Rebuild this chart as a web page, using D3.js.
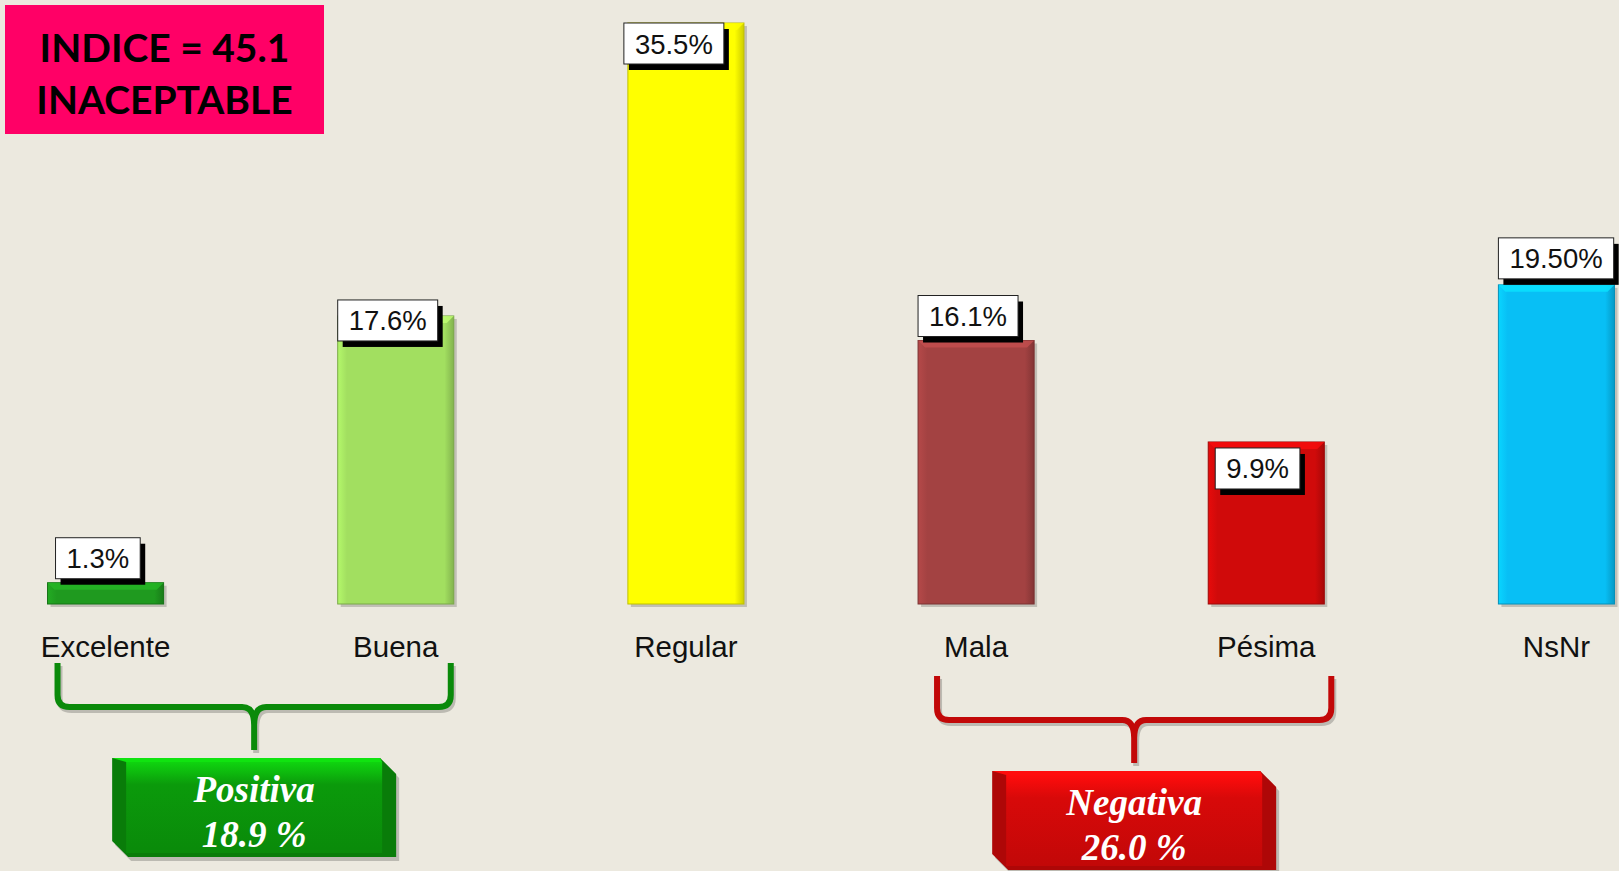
<!DOCTYPE html>
<html>
<head>
<meta charset="utf-8">
<script src="https://cdn.jsdelivr.net/npm/d3@7"></script>
<style>
  body { margin: 0; background: #ece9df; }
  svg { display: block; }
</style>
</head>
<body>
<svg id="chart" width="1619" height="871"></svg>
<script>
// data
const categories = ["Excelente", "Buena", "Regular", "Mala", "Pésima", "NsNr"];
const values = [1.3, 17.6, 35.5, 16.1, 9.9, 19.5];
const valueLabels = ["1.3%", "17.6%", "35.5%", "16.1%", "9.9%", "19.50%"];
const barColors = ["#1f9a1f", "#a2df60", "#ffff00", "#a34242", "#d00a0a", "#08bff5"];

const groupNames = ["Positiva", "Negativa"];
const groupValues = [18.9, 26.0];
const groupMembers = [["Excelente", "Buena"], ["Mala", "Pésima"]];
const groupColors = ["#0a8a0a", "#c20808"];

const indice = 45.1;
const indiceText = "INACEPTABLE";

// label box nudges (the source placed them by hand)
const labelNudge = [[8, 0], [0, 29], [-4, 45], [0, 0], [7, 51], [0, -2]];
// brace end insets + vertical shift per group
const braceInset = [[10, -3], [19, 7]];
const braceShift = [0, 13];

const svg = d3.select("#chart");
const defs = svg.append("defs");

const x = d3.scaleBand()
    .domain(categories)
    .range([4, 1658])
    .paddingInner(0.6)
    .paddingOuter(0.15);

const y = d3.scaleLinear()
    .domain([0, d3.max(values)])
    .range([604, 23]);

// gradients for the bevel look
barColors.forEach((c, i) => {
    const g = defs.append("linearGradient")
        .attr("id", "bar" + i)
        .attr("x1", 0).attr("x2", 1).attr("y1", 0).attr("y2", 0);
    g.append("stop").attr("offset", "0%").attr("stop-color", d3.color(c).brighter(0.3));
    g.append("stop").attr("offset", "8%").attr("stop-color", c);
    g.append("stop").attr("offset", "92%").attr("stop-color", c);
    g.append("stop").attr("offset", "100%").attr("stop-color", d3.color(c).darker(0.6));
});

const bars = svg.append("g")
    .selectAll("g")
    .data(categories)
    .join("g");

// shadow
bars.append("rect")
    .attr("x", d => x(d) + 3)
    .attr("y", (d, i) => y(values[i]) + 3)
    .attr("width", x.bandwidth())
    .attr("height", (d, i) => y(0) - y(values[i]))
    .attr("fill", "rgba(0,0,0,0.18)");

bars.append("rect")
    .attr("x", d => x(d))
    .attr("y", (d, i) => y(values[i]))
    .attr("width", x.bandwidth())
    .attr("height", (d, i) => y(0) - y(values[i]))
    .attr("fill", (d, i) => `url(#bar${i})`)
    .attr("stroke", (d, i) => d3.color(barColors[i]).darker(0.8))
    .attr("stroke-width", 1);

// top bevel
bars.append("path")
    .attr("d", (d, i) => {
        const x0 = x(d), x1 = x(d) + x.bandwidth(), t = y(values[i]);
        const b = Math.min(7, (y(0) - t) / 2);
        return `M${x0},${t} L${x1},${t} L${x1 - b},${t + b} L${x0 + b},${t + b} Z`;
    })
    .attr("fill", (d, i) => d3.color(barColors[i]).brighter(0.5))
    .attr("opacity", 0.8);

// value label boxes
const labels = svg.append("g")
    .selectAll("g")
    .data(categories)
    .join("g");

labels.each(function(d, i) {
    const g = d3.select(this);
    const txt = g.append("text")
        .attr("font-family", "'Liberation Sans', Arial, sans-serif")
        .attr("font-size", 27.5)
        .attr("fill", "#111")
        .text(valueLabels[i]);
    const w = txt.node().getComputedTextLength() + 22;
    const h = 41;
    const bx = x(d) + labelNudge[i][0];
    const by = y(values[i]) - h - 4 + labelNudge[i][1];
    g.insert("rect", "text")
        .attr("x", bx + 5).attr("y", by + 6)
        .attr("width", w).attr("height", h)
        .attr("fill", "#000");
    g.insert("rect", "text")
        .attr("x", bx).attr("y", by)
        .attr("width", w).attr("height", h)
        .attr("fill", "#fff")
        .attr("stroke", "#222")
        .attr("stroke-width", 1);
    txt.attr("x", bx + w / 2)
        .attr("y", by + h / 2 + 10)
        .attr("text-anchor", "middle");
});

// category axis labels
svg.append("g")
    .selectAll("text")
    .data(categories)
    .join("text")
    .attr("x", d => x(d) + x.bandwidth() / 2)
    .attr("y", 657)
    .attr("text-anchor", "middle")
    .attr("font-family", "'Liberation Sans', Arial, sans-serif")
    .attr("font-size", 29.5)
    .attr("fill", "#111")
    .text(d => d);

// braces and group boxes
groupNames.forEach((name, gi) => {
    const m = groupMembers[gi];
    const x0 = x(m[0]) + braceInset[gi][0];
    const x1 = x(m[m.length - 1]) + x.bandwidth() + braceInset[gi][1];
    const xc = (x0 + x1) / 2;
    const top = 663 + braceShift[gi], mid = 707 + braceShift[gi], bot = 750 + braceShift[gi];
    const r = 12;
    const col = groupColors[gi];
    const d = `M${x0},${top} L${x0},${mid - r} Q${x0},${mid} ${x0 + r},${mid} L${xc - r},${mid} Q${xc},${mid} ${xc},${mid + r + 6} L${xc},${bot}` +
        ` M${x1},${top} L${x1},${mid - r} Q${x1},${mid} ${x1 - r},${mid} L${xc + r},${mid} Q${xc},${mid} ${xc},${mid + r + 6}`;
    svg.append("path").attr("d", d)
        .attr("transform", "translate(2,3)")
        .attr("fill", "none").attr("stroke", "rgba(0,0,0,0.2)").attr("stroke-width", 6);
    svg.append("path").attr("d", d)
        .attr("fill", "none").attr("stroke", col).attr("stroke-width", 6)
        .attr("stroke-linejoin", "round");

    // beveled box
    const bw = 284, bh = 99, ch = 16;
    const bx = xc - bw / 2, by = bot + 8;
    const gid = "grp" + gi;
    const lg = defs.append("linearGradient").attr("id", gid)
        .attr("x1", 0).attr("x2", 0).attr("y1", 0).attr("y2", 1);
    lg.append("stop").attr("offset", "0%").attr("stop-color", d3.color(col).brighter(1.2));
    lg.append("stop").attr("offset", "25%").attr("stop-color", d3.color(col).brighter(0.3));
    lg.append("stop").attr("offset", "100%").attr("stop-color", col);
    const outer = [[bx, by], [bx + bw - ch, by], [bx + bw, by + ch], [bx + bw, by + bh], [bx + ch, by + bh], [bx, by + bh - ch]];
    svg.append("polygon")
        .attr("points", outer.map(p => [p[0] + 3, p[1] + 4].join(",")).join(" "))
        .attr("fill", "rgba(0,0,0,0.2)");
    svg.append("polygon")
        .attr("points", outer.map(p => p.join(",")).join(" "))
        .attr("fill", d3.color(col).darker(0.3));
    const inset = 14;
    svg.append("rect")
        .attr("x", bx + inset).attr("y", by + 4)
        .attr("width", bw - 2 * inset).attr("height", bh - 8)
        .attr("fill", `url(#${gid})`);
    svg.append("polygon")
        .attr("points", [[bx, by], [bx + bw - ch, by], [bx + bw - inset, by + 4], [bx + inset, by + 4]].map(p => p.join(",")).join(" "))
        .attr("fill", d3.color(col).brighter(1.4));

    svg.append("text")
        .attr("x", xc).attr("y", by + 44)
        .attr("text-anchor", "middle")
        .attr("font-family", "'Liberation Serif', 'Times New Roman', serif")
        .attr("font-style", "italic").attr("font-weight", "bold")
        .attr("font-size", 37).attr("fill", "#fff")
        .text(name);
    svg.append("text")
        .attr("x", xc).attr("y", by + 89)
        .attr("text-anchor", "middle")
        .attr("font-family", "'Liberation Serif', 'Times New Roman', serif")
        .attr("font-style", "italic").attr("font-weight", "bold")
        .attr("font-size", 37).attr("fill", "#fff")
        .text(`${groupValues[gi].toFixed(1)} %`);
});

// index box
svg.append("rect")
    .attr("x", 5).attr("y", 5)
    .attr("width", 319).attr("height", 129)
    .attr("fill", "#ff0066");
svg.append("text")
    .attr("x", 164.5).attr("y", 62)
    .attr("text-anchor", "middle")
    .attr("font-family", "Lato, 'Open Sans', sans-serif")
    .attr("font-weight", "bold").attr("font-size", 39)
    .attr("fill", "#000")
    .text(`INDICE = ${indice}`);
svg.append("text")
    .attr("x", 164.5).attr("y", 114)
    .attr("text-anchor", "middle")
    .attr("font-family", "Lato, 'Open Sans', sans-serif")
    .attr("font-weight", "bold").attr("font-size", 39)
    .attr("fill", "#000")
    .text(indiceText);
</script>
</body>
</html>
